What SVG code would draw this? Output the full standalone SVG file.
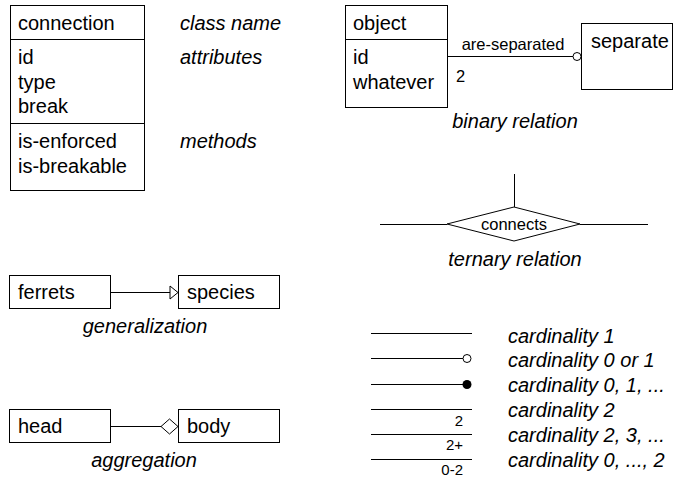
<svg xmlns="http://www.w3.org/2000/svg" width="680" height="482" viewBox="0 0 680 482">
  <style>
    text { font-family: "Liberation Sans", Arial, sans-serif; fill: #000; }
    .t { font-size: 20px; }
    .cap { font-size: 20px; font-style: italic; }
    .s { font-size: 16.5px; }
    .n { font-size: 15px; }
    .box { fill: #fff; stroke: #000; stroke-width: 1; }
    .ln { fill: none; stroke: #000; stroke-width: 1; }
  </style>

  <!-- class box with name, attributes and methods -->
  <g id="connection">
    <rect class="box" x="10.5" y="5.5" width="134" height="185"/>
    <line class="ln" x1="10" y1="39.5" x2="145" y2="39.5"/>
    <line class="ln" x1="10" y1="123.5" x2="145" y2="123.5"/>
    <text class="t" x="18" y="30">connection</text>
    <text class="t" x="18" y="64">id</text>
    <text class="t" x="18" y="89">type</text>
    <text class="t" x="18" y="113">break</text>
    <text class="t" x="18" y="148">is-enforced</text>
    <text class="t" x="18" y="173">is-breakable</text>
  </g>
  <g id="legend-class">
    <text class="cap" x="180" y="30">class name</text>
    <text class="cap" x="180" y="64">attributes</text>
    <text class="cap" x="180" y="148">methods</text>
  </g>

  <!-- binary relation -->
  <g id="object">
    <rect class="box" x="345.5" y="5.5" width="102" height="102"/>
    <line class="ln" x1="345" y1="39.5" x2="448" y2="39.5"/>
    <text class="t" x="353" y="30">object</text>
    <text class="t" x="353" y="64">id</text>
    <text class="t" x="353" y="89">whatever</text>
  </g>
  <g id="separate">
    <rect class="box" x="581.5" y="23.5" width="91" height="66"/>
    <text class="t" x="591" y="48">separate</text>
  </g>
  <text class="cap" x="515" y="128" text-anchor="middle">binary relation</text>

  <!-- ternary relation -->
  <g id="connects">
    <polygon class="box" points="447,224 514,207 580,224 514,241"/>
    <text class="s" x="514" y="230" text-anchor="middle">connects</text>
  </g>
  <text class="cap" x="515" y="266" text-anchor="middle">ternary relation</text>

  <!-- generalization -->
  <g id="ferrets">
    <rect class="box" x="9.5" y="275.5" width="101" height="33"/>
    <text class="t" x="18" y="299">ferrets</text>
  </g>
  <g id="species">
    <rect class="box" x="178.5" y="275.5" width="101" height="33"/>
    <text class="t" x="187" y="299">species</text>
  </g>
  <text class="cap" x="145" y="333" text-anchor="middle">generalization</text>

  <!-- aggregation -->
  <g id="head">
    <rect class="box" x="9.5" y="409.5" width="101" height="33"/>
    <text class="t" x="18" y="433">head</text>
  </g>
  <g id="body">
    <rect class="box" x="178.5" y="409.5" width="101" height="33"/>
    <text class="t" x="187" y="433">body</text>
  </g>
  <text class="cap" x="144" y="467" text-anchor="middle">aggregation</text>

  <!-- connectors -->
  <g id="connectors">
    <!-- are-separated -->
    <line class="ln" x1="448" y1="56.5" x2="573" y2="56.5"/>
    <circle class="box" cx="577" cy="56.5" r="4"/>
    <text class="s" x="513" y="50" text-anchor="middle">are-separated</text>
    <text class="s" x="456" y="82">2</text>
    <!-- ternary legs -->
    <line class="ln" x1="514.5" y1="174" x2="514.5" y2="207"/>
    <line class="ln" x1="380" y1="224.5" x2="447" y2="224.5"/>
    <line class="ln" x1="580" y1="224.5" x2="648" y2="224.5"/>
    <!-- generalization arrow -->
    <line class="ln" x1="111" y1="292.5" x2="170" y2="292.5"/>
    <polygon class="box" points="170,286 178,292.5 170,299"/>
    <!-- aggregation diamond -->
    <line class="ln" x1="111" y1="426.5" x2="161" y2="426.5"/>
    <polygon class="box" points="161,426.5 169.5,419 178,426.5 169.5,434"/>
  </g>

  <!-- cardinality legend -->
  <g id="cardinality">
    <line class="ln" x1="371" y1="333.5" x2="472" y2="333.5"/>
    <line class="ln" x1="371" y1="358.5" x2="463" y2="358.5"/>
    <circle class="box" cx="467" cy="358.5" r="4"/>
    <line class="ln" x1="371" y1="384.5" x2="463" y2="384.5"/>
    <circle cx="467" cy="384.5" r="4.5" fill="#000"/>
    <line class="ln" x1="371" y1="409.5" x2="472" y2="409.5"/>
    <text class="n" x="463" y="426" text-anchor="end">2</text>
    <line class="ln" x1="371" y1="434.5" x2="472" y2="434.5"/>
    <text class="n" x="463" y="450" text-anchor="end">2+</text>
    <line class="ln" x1="371" y1="459.5" x2="472" y2="459.5"/>
    <text class="n" x="463" y="475" text-anchor="end">0-2</text>
    <text class="cap" x="508" y="343">cardinality 1</text>
    <text class="cap" x="508" y="367">cardinality 0 or 1</text>
    <text class="cap" x="508" y="392">cardinality 0, 1, ...</text>
    <text class="cap" x="508" y="417">cardinality 2</text>
    <text class="cap" x="508" y="442">cardinality 2, 3, ...</text>
    <text class="cap" x="508" y="467">cardinality 0, ..., 2</text>
  </g>
</svg>
